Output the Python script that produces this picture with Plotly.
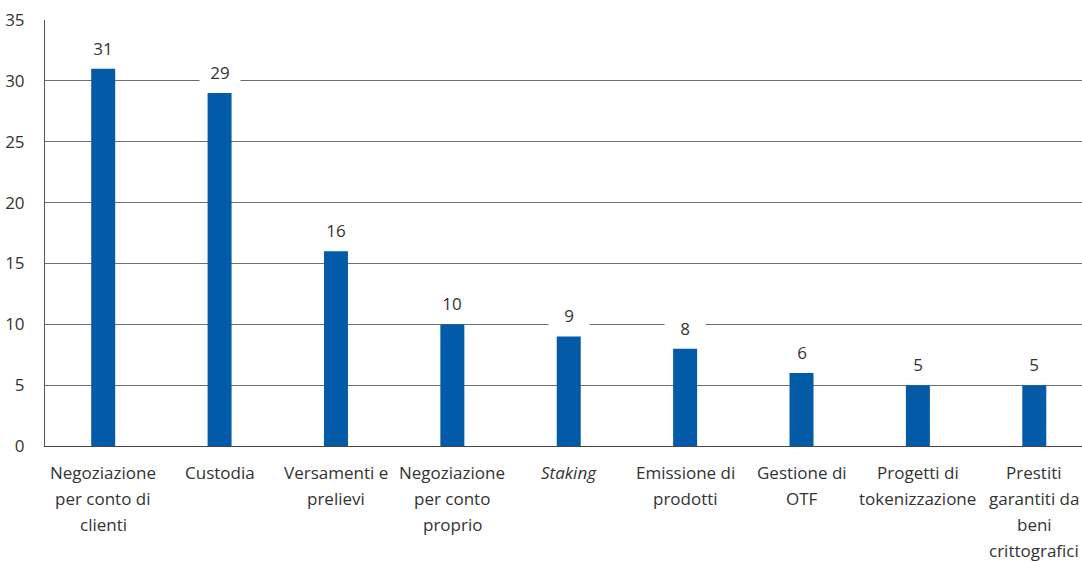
import plotly.graph_objects as go

categories = [
    "Negoziazione<br>per conto di<br>clienti",
    "Custodia",
    "Versamenti e<br>prelievi",
    "Negoziazione<br>per conto<br>proprio",
    "<i>Staking</i>",
    "Emissione di<br>prodotti",
    "Gestione di<br>OTF",
    "Progetti di<br>tokenizzazione",
    "Prestiti<br>garantiti da<br>beni<br>crittografici",
]
values = [31, 29, 16, 10, 9, 8, 6, 5, 5]
y_ticks = [0, 5, 10, 15, 20, 25, 30, 35]

BAR_COLOR = "#035AA6"
TEXT_COLOR = "#333333"
FONT = "Open Sans"
FONT_SIZE = 17

x = list(range(len(categories)))

fig = go.Figure(
    go.Bar(
        x=x,
        y=values,
        width=0.206,
        marker=dict(color=BAR_COLOR, line=dict(width=0)),
        hoverinfo="skip",
    )
)

annotations = []
# value labels sitting on a white box that interrupts the gridlines
for xi, v in zip(x, values):
    annotations.append(dict(
        x=xi, y=v, xref="x", yref="y",
        text=str(v), showarrow=False,
        yanchor="bottom", yshift=9,
        width=38, height=20, bgcolor="white",
        font=dict(family=FONT, size=FONT_SIZE, color=TEXT_COLOR),
    ))

# category labels, one annotation per line for wider line spacing
for xi, label in zip(x, categories):
    for i, line in enumerate(label.split("<br>")):
        annotations.append(dict(
            x=xi, y=0, xref="x", yref="y",
            text=line, showarrow=False,
            yanchor="top", yshift=-13 - 26 * i,
            font=dict(family=FONT, size=FONT_SIZE, color=TEXT_COLOR),
        ))

fig.update_layout(
    width=1082, height=562,
    margin=dict(l=45, r=0, t=20, b=116),
    paper_bgcolor="white", plot_bgcolor="white",
    showlegend=False,
    annotations=annotations,
    font=dict(family=FONT, size=FONT_SIZE, color=TEXT_COLOR),
    xaxis=dict(
        range=[-0.5, 8.41],
        showticklabels=False, showgrid=False, zeroline=False,
        showline=True, linecolor="#444444", linewidth=1,
        ticks="", fixedrange=True,
    ),
    yaxis=dict(
        range=[0, 35], tickvals=y_ticks,
        showgrid=True, gridcolor="#6e6e6e", gridwidth=1,
        zeroline=False,
        showline=True, linecolor="#555555", linewidth=1,
        ticks="", ticklabelstandoff=16,
        tickfont=dict(family=FONT, size=FONT_SIZE, color=TEXT_COLOR),
        fixedrange=True,
    ),
)

fig.write_html("out.html")
